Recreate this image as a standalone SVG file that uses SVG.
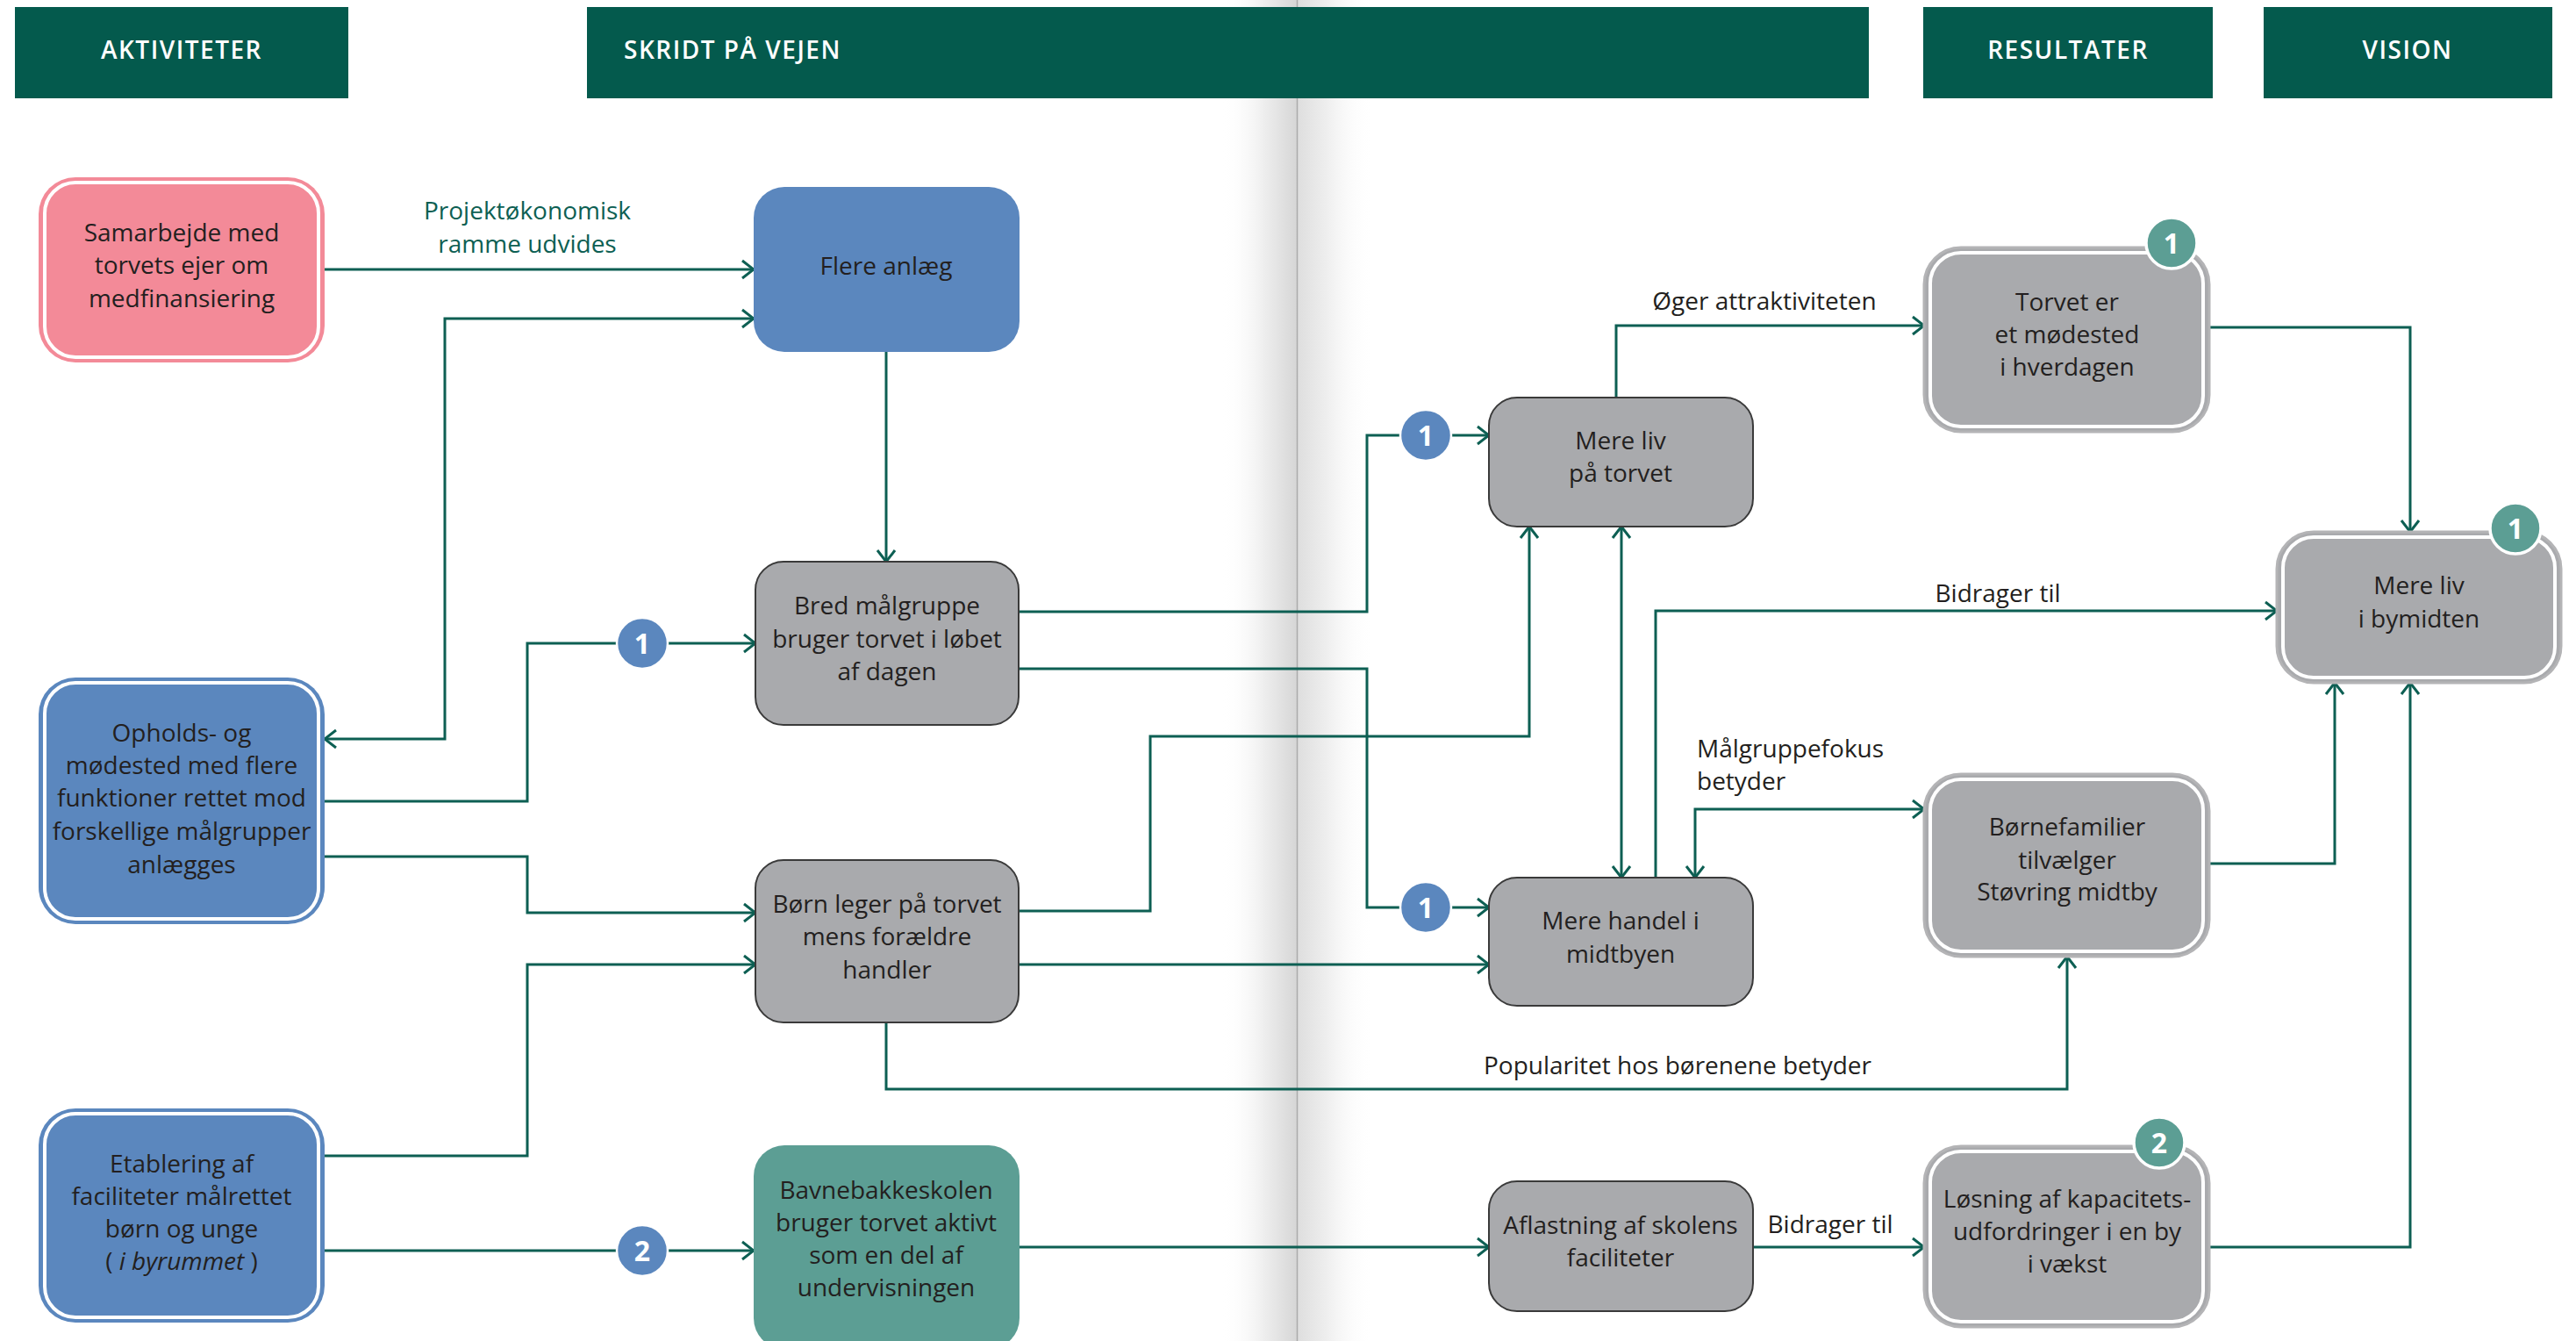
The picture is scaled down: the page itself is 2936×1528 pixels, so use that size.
<svg xmlns="http://www.w3.org/2000/svg" width="2936" height="1528" viewBox="0 0 2936 1528">
<defs>
<linearGradient id="gl" x1="0" y1="0" x2="1" y2="0">
<stop offset="0" stop-color="#ffffff" stop-opacity="0"/>
<stop offset="0.6" stop-color="#ececec"/>
<stop offset="1" stop-color="#d6d6d6"/>
</linearGradient>
<linearGradient id="gr" x1="0" y1="0" x2="1" y2="0">
<stop offset="0" stop-color="#dedede"/>
<stop offset="0.4" stop-color="#efefef"/>
<stop offset="1" stop-color="#ffffff" stop-opacity="0"/>
</linearGradient>
<marker id="arr" viewBox="0 0 16 24" refX="15" refY="12" markerWidth="16" markerHeight="24" markerUnits="userSpaceOnUse" orient="auto-start-reverse">
<path d="M2,2 L15,12 L2,22" fill="none" stroke="#0D5F53" stroke-width="3"/>
</marker>
<style>
.hdr{fill:#045A4D}
.ht{font-family:"Open Sans","Liberation Sans",sans-serif;font-size:28px;font-weight:600;fill:#ffffff;letter-spacing:1.5px}
.t{font-family:"Open Sans","Liberation Sans",sans-serif;font-size:28px;fill:#231F20;text-anchor:middle}
.lb{font-family:"Open Sans","Liberation Sans",sans-serif;font-size:28px;fill:#231F20}
.lbg{font-family:"Open Sans","Liberation Sans",sans-serif;font-size:28px;fill:#0D5F53;text-anchor:middle}
.gray{fill:#A9AAAD;stroke:#3A3A3A;stroke-width:2}
.blue{fill:#5B87BE}
.teal{fill:#5C9E94}
.pink{fill:#F38A98}
.grayd{fill:#A9AAAD;stroke:#B4B4B6;stroke-width:3}
.ring{fill:none;stroke:#ffffff;stroke-width:4}
.con{fill:none;stroke:#0D5F53;stroke-width:3}
.e{marker-end:url(#arr)}
.b{marker-start:url(#arr);marker-end:url(#arr)}
.bb{fill:#5B87BE;stroke:#ffffff;stroke-width:2.5}
.bt{fill:#5C9E94;stroke:#ffffff;stroke-width:3.5}
.bn{font-family:"Open Sans","Liberation Sans",sans-serif;font-size:32px;font-weight:700;fill:#ffffff;text-anchor:middle}
</style>
</defs>
<rect width="2936" height="1528" fill="#ffffff"/>
<g id="gutter">
<rect x="1392" y="0" width="86" height="1528" fill="url(#gl)"/>
<rect x="1479" y="0" width="86" height="1528" fill="url(#gr)"/>
<line x1="1478.5" y1="0" x2="1478.5" y2="1528" stroke="#ABABAB" stroke-width="1.5"/>
</g>
<g id="headers">
<rect class="hdr" x="17" y="8" width="380" height="104"/>
<text class="ht" x="207" y="67" text-anchor="middle">AKTIVITETER</text>
<rect class="hdr" x="669" y="8" width="1461" height="104"/>
<text class="ht" x="711" y="67">SKRIDT PÅ VEJEN</text>
<rect class="hdr" x="2192" y="8" width="330" height="104"/>
<text class="ht" x="2357" y="67" text-anchor="middle">RESULTATER</text>
<rect class="hdr" x="2580" y="8" width="329" height="104"/>
<text class="ht" x="2744" y="67" text-anchor="middle">VISION</text>
</g>
<g id="connectors">
<path class="con e" d="M370,307 H859"/>
<path class="con b" d="M370,842 H507 V363 H859"/>
<path class="con e" d="M1010,401 V640"/>
<path class="con e" d="M370,913 H601 V733 H861"/>
<path class="con e" d="M370,976 H601 V1040 H861"/>
<path class="con e" d="M370,1317 H601 V1099 H861"/>
<path class="con e" d="M370,1425 H859"/>
<path class="con e" d="M1161,697 H1558 V496 H1697"/>
<path class="con e" d="M1161,762 H1558 V1034 H1697"/>
<path class="con e" d="M1161,1038 H1311 V839 H1743 V600"/>
<path class="con e" d="M1161,1099 H1697"/>
<path class="con b" d="M1848,600 V1000"/>
<path class="con e" d="M1842,453 V371 H2193"/>
<path class="con e" d="M1887,1000 V696 H2595"/>
<path class="con b" d="M1932,1000 V922 H2193"/>
<path class="con e" d="M1010,1165 V1241 H2356 V1090"/>
<path class="con e" d="M1162,1421 H1697"/>
<path class="con e" d="M1998,1421 H2193"/>
<path class="con e" d="M2518,373 H2747 V606"/>
<path class="con e" d="M2518,984 H2661 V778"/>
<path class="con e" d="M2518,1421 H2747 V778"/>
<text class="lbg" x="601" y="250">Projektøkonomisk</text>
<text class="lbg" x="601" y="288">ramme udvides</text>
<text class="lb" x="2011" y="353" text-anchor="middle">Øger attraktiviteten</text>
<text class="lb" x="2277" y="686" text-anchor="middle">Bidrager til</text>
<text class="lb" x="1934" y="863">Målgruppefokus</text>
<text class="lb" x="1934" y="900">betyder</text>
<text class="lb" x="1912" y="1224" text-anchor="middle">Popularitet hos børenene betyder</text>
<text class="lb" x="2086" y="1405" text-anchor="middle">Bidrager til</text>
<circle class="bb" cx="732" cy="733" r="29"/><text class="bn" x="732" y="745">1</text>
<circle class="bb" cx="732" cy="1425" r="29"/><text class="bn" x="732" y="1437">2</text>
<circle class="bb" cx="1625" cy="496" r="29"/><text class="bn" x="1625" y="508">1</text>
<circle class="bb" cx="1625" cy="1034" r="29"/><text class="bn" x="1625" y="1046">1</text>
</g>
<g id="n-samarbejde">
<rect class="pink" x="44" y="202" width="326" height="211" rx="42"/>
<rect class="ring" x="51" y="208" width="312" height="199" rx="35"/>
<text class="t" x="207" y="275">Samarbejde med</text>
<text class="t" x="207" y="312">torvets ejer om</text>
<text class="t" x="207" y="350">medfinansiering</text>
</g>
<g id="n-opholds">
<rect class="blue" x="44" y="772" width="326" height="281" rx="42"/>
<rect class="ring" x="51" y="778" width="312" height="269" rx="35"/>
<text class="t" x="207" y="845">Opholds- og</text>
<text class="t" x="207" y="882">mødested med flere</text>
<text class="t" x="207" y="919">funktioner rettet mod</text>
<text class="t" x="207" y="957">forskellige målgrupper</text>
<text class="t" x="207" y="995">anlægges</text>
</g>
<g id="n-etablering">
<rect class="blue" x="44" y="1263" width="326" height="244" rx="42"/>
<rect class="ring" x="51" y="1269" width="312" height="232" rx="35"/>
<text class="t" x="207" y="1336">Etablering af</text>
<text class="t" x="207" y="1373">faciliteter målrettet</text>
<text class="t" x="207" y="1410">børn og unge</text>
<text class="t" x="207" y="1447">( <tspan font-style="italic">i byrummet</tspan> )</text>
</g>
<g id="n-flere">
<rect class="blue" x="859" y="213" width="303" height="188" rx="35"/>
<text class="t" x="1010" y="313">Flere anlæg</text>
</g>
<g id="n-bred">
<rect class="gray" x="861" y="640" width="300" height="186" rx="32"/>
<text class="t" x="1011" y="700">Bred målgruppe</text>
<text class="t" x="1011" y="738">bruger torvet i løbet</text>
<text class="t" x="1011" y="775">af dagen</text>
</g>
<g id="n-born">
<rect class="gray" x="861" y="980" width="300" height="185" rx="32"/>
<text class="t" x="1011" y="1040">Børn leger på torvet</text>
<text class="t" x="1011" y="1077">mens forældre</text>
<text class="t" x="1011" y="1115">handler</text>
</g>
<g id="n-bavne">
<rect class="teal" x="859" y="1305" width="303" height="232" rx="35"/>
<text class="t" x="1010" y="1366">Bavnebakkeskolen</text>
<text class="t" x="1010" y="1403">bruger torvet aktivt</text>
<text class="t" x="1010" y="1440">som en del af</text>
<text class="t" x="1010" y="1477">undervisningen</text>
</g>
<g id="n-merelivtorvet">
<rect class="gray" x="1697" y="453" width="301" height="147" rx="32"/>
<text class="t" x="1847" y="512">Mere liv</text>
<text class="t" x="1847" y="549">på torvet</text>
</g>
<g id="n-merehandel">
<rect class="gray" x="1697" y="1000" width="301" height="146" rx="32"/>
<text class="t" x="1847" y="1059">Mere handel i</text>
<text class="t" x="1847" y="1097">midtbyen</text>
</g>
<g id="n-aflastning">
<rect class="gray" x="1697" y="1346" width="301" height="148" rx="32"/>
<text class="t" x="1847" y="1406">Aflastning af skolens</text>
<text class="t" x="1847" y="1443">faciliteter</text>
</g>
<g id="n-torveter">
<rect class="grayd" x="2193" y="282" width="325" height="210" rx="42"/>
<rect class="ring" x="2200" y="288" width="311" height="198" rx="35"/>
<text class="t" x="2356" y="354">Torvet er</text>
<text class="t" x="2356" y="391">et mødested</text>
<text class="t" x="2356" y="428">i hverdagen</text>
<circle class="bt" cx="2475" cy="277" r="29"/><text class="bn" x="2475" y="289">1</text>
</g>
<g id="n-merelivbymidten">
<rect class="grayd" x="2595" y="606" width="324" height="172" rx="42"/>
<rect class="ring" x="2602" y="612" width="310" height="160" rx="35"/>
<text class="t" x="2757" y="677">Mere liv</text>
<text class="t" x="2757" y="715">i bymidten</text>
<circle class="bt" cx="2867" cy="602" r="29"/><text class="bn" x="2867" y="614">1</text>
</g>
<g id="n-bornefamilier">
<rect class="grayd" x="2193" y="882" width="325" height="208" rx="42"/>
<rect class="ring" x="2200" y="888" width="311" height="196" rx="35"/>
<text class="t" x="2356" y="952">Børnefamilier</text>
<text class="t" x="2356" y="990">tilvælger</text>
<text class="t" x="2356" y="1026">Støvring midtby</text>
</g>
<g id="n-losning">
<rect class="grayd" x="2193" y="1306" width="325" height="206" rx="42"/>
<rect class="ring" x="2200" y="1312" width="311" height="194" rx="35"/>
<text class="t" x="2356" y="1376">Løsning af kapacitets-</text>
<text class="t" x="2356" y="1413">udfordringer i en by</text>
<text class="t" x="2356" y="1450">i vækst</text>
<circle class="bt" cx="2461" cy="1302" r="29"/><text class="bn" x="2461" y="1314">2</text>
</g>
</svg>
